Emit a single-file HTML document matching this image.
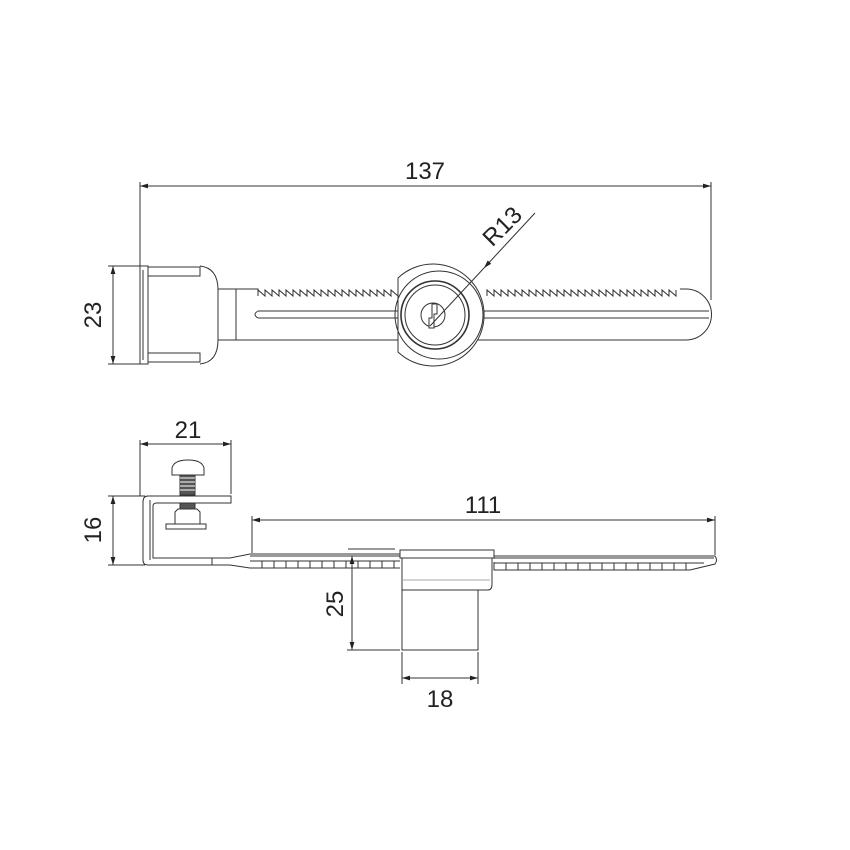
<!DOCTYPE html>
<html><head><meta charset="utf-8"><style>html,body{margin:0;padding:0;background:#fff}svg{display:block}text{font-family:"Liberation Sans",sans-serif;font-size:24px;fill:#222}</style></head><body>
<svg width="850" height="850" viewBox="0 0 850 850" xmlns="http://www.w3.org/2000/svg">
<defs><marker id="a" viewBox="0 0 10 10" refX="10" refY="5" markerWidth="12" markerHeight="8" orient="auto-start-reverse" markerUnits="userSpaceOnUse"><path d="M0,2 L10,5 L0,8z" fill="#222"/></marker></defs>
<g stroke="#333" stroke-width="1" fill="none">
<line x1="140" y1="186" x2="711" y2="186" marker-start="url(#a)" marker-end="url(#a)"/>
<line x1="140" y1="182" x2="140" y2="266"/><line x1="711" y1="182" x2="711" y2="300"/>
<line x1="113" y1="266" x2="113" y2="364" marker-start="url(#a)" marker-end="url(#a)"/>
<line x1="108" y1="266" x2="140" y2="266"/><line x1="108" y1="364" x2="140" y2="364"/>
<rect x="140" y="266" width="8" height="98"/>
<line x1="143" y1="270" x2="143" y2="360"/>
<rect x="148" y="267" width="52" height="9"/><rect x="148" y="353" width="52" height="9"/>
<path d="M200,266 Q218,268 218,290 L218,340 Q218,362 200,364"/>
<rect x="218" y="289" width="18" height="51"/>
<path d="M236,289 L258,289 L258,296"/>
<path d="M236,340 L686,340 A25,25 0 0 0 686,289 L680,289"/>
<path d="M258,296 l0,-6 l7,6 l0,-6 l7,6 l0,-6 l7,6 l0,-6 l7,6 l0,-6 l7,6 l0,-6 l7,6 l0,-6 l7,6 l0,-6 l7,6 l0,-6 l7,6 l0,-6 l7,6 l0,-6 l7,6 l0,-6 l7,6 l0,-6 l7,6 l0,-6 l7,6 l0,-6 l7,6 l0,-6 l7,6 l0,-6 l7,6 l0,-6 l7,6 l0,-6 l7,6 l0,-6 l7,6 l0,-6 l6,6"/>
<path d="M487,296 l0,-6 l7,6 l0,-6 l7,6 l0,-6 l7,6 l0,-6 l7,6 l0,-6 l7,6 l0,-6 l7,6 l0,-6 l7,6 l0,-6 l7,6 l0,-6 l7,6 l0,-6 l7,6 l0,-6 l7,6 l0,-6 l7,6 l0,-6 l7,6 l0,-6 l7,6 l0,-6 l7,6 l0,-6 l7,6 l0,-6 l7,6 l0,-6 l7,6 l0,-6 l7,6 l0,-6 l7,6 l0,-6 l7,6 l0,-6 l7,6 l0,-6 l7,6 l0,-6 l7,6 l0,-6 l7,6 l0,-6 l7,6 l0,-6 l7,6 l0,-6"/>
<path d="M258,311 L400,311 M258,318 L400,318 M476,311 L709,311 M476,318 L709,318"/>
<path d="M258,311 Q252,314.5 258,318"/>
<path d="M398,278 A51,51 0 1 1 398,352 Z" fill="#fff"/>
<circle cx="439" cy="315" r="44"/>
<circle cx="435" cy="315" r="34" stroke-width="1.6"/>
<circle cx="435" cy="315" r="30"/>
<circle cx="433" cy="315" r="12"/>
<path d="M432,304 h5 v10 h-3 v14 h-5 v-10 h3z" fill="#fff"/>
<line x1="535" y1="213" x2="484" y2="268" marker-end="url(#a)"/>
<line x1="484" y1="268" x2="430" y2="326"/>
<line x1="140" y1="444" x2="231" y2="444" marker-start="url(#a)" marker-end="url(#a)"/>
<line x1="140" y1="440" x2="140" y2="496"/><line x1="231" y1="440" x2="231" y2="494"/>
<line x1="113" y1="496" x2="113" y2="565" marker-start="url(#a)" marker-end="url(#a)"/>
<line x1="108" y1="496" x2="145" y2="496"/><line x1="108" y1="565" x2="145" y2="565"/>
<path d="M231,496 L148,496 Q143,496 143,502 L143,560 Q143,565 148,565 L212,565 L212,558 L153,558 L153,506 Q153,503 157,503 L231,503 Z"/>
<line x1="150" y1="500" x2="150" y2="560"/>
<path d="M172,475 L172,468 Q174,460 188,460 Q202,460 204,468 L204,475 Z"/>
<rect x="180" y="475" width="15" height="20" fill="#555"/>
<path d="M180,478 h15 M180,482 h15 M180,486 h15 M180,490 h15" stroke="#fff"/>
<rect x="180" y="503" width="15" height="6" fill="#555"/>
<path d="M178,509 h19 l3,3 v12 h-25 v-12z"/>
<rect x="166" y="524" width="40" height="5"/>
<!-- rack -->
<path d="M212,558 L230,558 L250,554 L400,554 M212,565 L230,565 L250,568 L400,568"/>
<path d="M250,556 h150" stroke="#999" stroke-width="2"/>
<path d="M250,561 h150"/>
<path d="M262,561 v7 M274,561 v7 M286,561 v7 M298,561 v7 M310,561 v7 M322,561 v7 M334,561 v7 M346,561 v7 M358,561 v7 M370,561 v7 M382,561 v7 M394,561 v7"/>
<path d="M494,556 L715,556 Q718,560 715,564 L690,570 L494,570 L494,562"/>
<path d="M494,558 h220" stroke="#999" stroke-width="2"/>
<path d="M494,563 h210"/>
<path d="M506,563 v7 M518,563 v7 M530,563 v7 M542,563 v7 M554,563 v7 M566,563 v7 M578,563 v7 M590,563 v7 M602,563 v7 M614,563 v7 M626,563 v7 M638,563 v7 M650,563 v7 M662,563 v7 M674,563 v7 M686,563 v7"/>
<path d="M348,549 L395,549"/>
<rect x="400" y="550" width="94" height="8" fill="#fff"/>
<path d="M402,558 L402,590 L488,590 Q492,590 492,584 L492,558"/>
<line x1="402" y1="580" x2="490" y2="580" stroke="#aaa"/>
<rect x="402" y="590" width="76" height="60"/>
<line x1="252" y1="520" x2="715" y2="520" marker-start="url(#a)" marker-end="url(#a)"/>
<line x1="252" y1="516" x2="252" y2="553"/><line x1="715" y1="516" x2="715" y2="555"/>
<line x1="352" y1="556" x2="352" y2="650" marker-start="url(#a)" marker-end="url(#a)"/>
<line x1="347" y1="650" x2="400" y2="650"/>
<line x1="402" y1="678" x2="478" y2="678" marker-start="url(#a)" marker-end="url(#a)"/>
<line x1="402" y1="652" x2="402" y2="684"/><line x1="478" y1="652" x2="478" y2="684"/>
</g>
<text x="425" y="179" text-anchor="middle">137</text>
<text transform="translate(101,315) rotate(-90)" text-anchor="middle">23</text>
<text transform="translate(508,232) rotate(-45)" text-anchor="middle">R13</text>
<text x="188" y="438" text-anchor="middle">21</text>
<text transform="translate(101,530) rotate(-90)" text-anchor="middle">16</text>
<text x="483" y="513" text-anchor="middle">111</text>
<text transform="translate(343,604) rotate(-90)" text-anchor="middle">25</text>
<text x="440" y="707" text-anchor="middle">18</text>
</svg>
</body></html>
